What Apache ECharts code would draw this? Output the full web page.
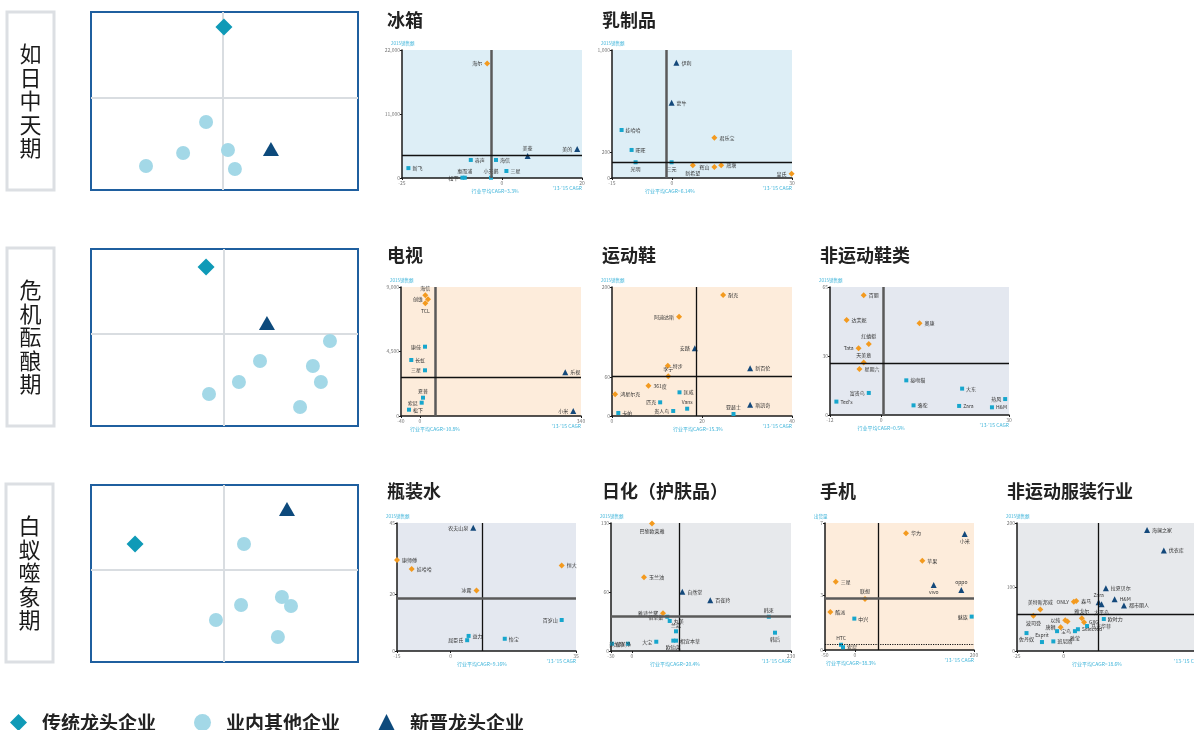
<!DOCTYPE html>
<html>
<head>
<meta charset="utf-8">
<title>行业格局</title>
<script src="https://cdn.jsdelivr.net/npm/echarts@6/dist/echarts.min.js"></script>
<style>
html, body { margin: 0; padding: 0; background: #fff; }
#main { width: 1194px; height: 730px; }
</style>
</head>
<body>
<div id="main"></div>
<script>
// ---- 示意图（0~100 的相对坐标）----
var legendNames = ['传统龙头企业', '业内其他企业', '新晋龙头企业'];
var stage1Old = [[49.8, 91.6]];
var stage1Other = [[43.1, 38.2], [34.5, 20.8], [20.6, 13.5], [51.3, 22.5], [53.9, 11.8]];
var stage1Rising = [[67.4, 23.0]];
var stage2Old = [[43.1, 89.8]];
var stage2Other = [[89.5, 48.0], [63.3, 36.7], [83.1, 33.9], [55.4, 24.9], [86.1, 24.9], [44.2, 18.1], [78.3, 10.7]];
var stage2Rising = [[65.9, 58.2]];
var stage3Old = [[16.5, 66.7]];
var stage3Other = [[57.3, 66.7], [71.5, 36.7], [74.9, 31.6], [56.2, 32.2], [46.8, 23.7], [70.0, 14.1]];
var stage3Rising = [[73.4, 86.4]];

// ---- 各行业：x = '13-'15 CAGR(%)，y = 2015销售额 ----
// 类型: o 传统龙头(橙) c 其他(青) t 新晋龙头(深蓝)
var fridgeNames = ['海尔', '美的', '美菱', '容声', '海信', '三星', '新飞', '松下', '惠而浦', '小天鹅'];
var fridgeKind = ['o', 't', 't', 'c', 'c', 'c', 'c', 'c', 'c', 'c'];
var fridgeX = [-3.7, 18.8, 6.4, -7.8, -1.5, 1.1, -23.4, -9.9, -9.3, -2.75];
var fridgeY = [19700, 5000, 3800, 3100, 3100, 1200, 1700, 50, 50, 50];

var dairyNames = ['伊利', '蒙牛', '娃哈哈', '旺旺', '光明', '三元', '君乐宝', '新希望', '辉山', '燕塘', '皇氏'];
var dairyKind = ['t', 't', 'c', 'c', 'c', 'c', 'o', 'o', 'o', 'o', 'o'];
var dairyX = [1.1, -0.1, -12.6, -10.1, -9.1, -0.1, 10.6, 5.2, 10.6, 12.3, 29.9];
var dairyY = [901, 588, 375, 219, 123, 123, 315, 99, 86, 99, 34];

var tvNames = ['海信', '创维', 'TCL', '康佳', '长虹', '三星', '乐视', '夏普', '索尼', '松下', '小米'];
var tvKind = ['o', 'o', 'o', 'c', 'c', 'c', 't', 'c', 'c', 'c', 't'];
var tvX = [11.3, 17, 11.3, 10.7, -18.3, 10.7, 306.8, 6.4, 3.7, -23.1, 323.7];
var tvY = [8420, 8140, 7860, 4835, 3907, 3188, 3049, 1277, 928, 440, 349];

var sportNames = ['耐克', '阿迪达斯', '安踏', '特步', '李宁', '新百伦', '361度', '鸿星尔克', '匡威', '匹克', 'Vans', '斯凯奇', '贵人鸟', '卡帕', '亚瑟士'];
var sportKind = ['o', 'o', 't', 'o', 'o', 't', 'o', 'o', 'c', 'c', 'c', 't', 'c', 'c', 'c'];
var sportX = [24.7, 14.9, 18.4, 12.4, 12.5, 30.7, 8.1, 0.7, 15, 10.7, 16.7, 30.7, 13.6, 1.4, 27];
var sportY = [187.6, 154, 105, 78, 61.5, 74, 47, 33.6, 36.7, 21.2, 11.3, 17.5, 7.8, 4.7, 3.1];

var shoeNames = ['百丽', '达芙妮', '奥康', '红蜻蜓', 'Tata', '天美意', '星期六', '接吻猫', '富贵鸟', "Ted's", '骆驼', '大东', 'Zara', '热风', 'H&M'];
var shoeKind = ['o', 'o', 'o', 'o', 'o', 'o', 'o', 'c', 'c', 'c', 'c', 'c', 'c', 'c', 'c'];
var shoeX = [-4.1, -8.1, 9, -2.9, -5.3, -4.1, -5.1, 5.9, -2.9, -10.5, 7.6, 19, 18.3, 29.1, 26];
var shoeY = [60.8, 48.2, 46.6, 36.1, 33.9, 26.6, 23.4, 17.6, 11.2, 6.8, 4.9, 13.4, 4.6, 8.1, 3.9];

var waterNames = ['农夫山泉', '康师傅', '娃哈哈', '恒大', '冰露', '百岁山', '益力', '屈臣氏', '怡宝'];
var waterKind = ['t', 'o', 'o', 'o', 'o', 'c', 'c', 'c', 'c'];
var waterX = [6.3, -15, -10.9, 31, 7.2, 31, 5, 4.6, 15.1];
var waterY = [43.3, 32, 28.8, 30.1, 21.3, 10.9, 5.3, 3.8, 4.3];

var skinNames = ['巴黎欧莱雅', '玉兰油', '自然堂', '百雀羚', '雅诗兰黛', '佰草集', '丸美', '兰蔻', '相宜本草', '欧珀莱', '大宝', '美加净', '郁美净', '韩后', '韩束'];
var skinKind = ['o', 'o', 't', 't', 'o', 'c', 'c', 'c', 'c', 'c', 'c', 'c', 'c', 'c', 'c'];
var skinX = [29.2, 17.7, 73, 113.4, 45.1, 51.3, 54.8, 63.9, 63.9, 60, 35.4, -5.4, -28.6, 206.9, 198];
var skinY = [129.5, 74.9, 60.2, 51.5, 38.3, 34.8, 30.5, 20, 10.5, 10.5, 9.4, 7.4, 7.4, 18.6, 34.8];

var phoneNames = ['华为', '小米', '苹果', '三星', 'vivo', 'oppo', '联想', '魅族', '酷派', '中兴', 'HTC', '索尼'];
var phoneKind = ['o', 't', 'o', 'o', 't', 't', 'o', 'c', 'o', 'c', 'c', 'c'];
var phoneX = [85.9, 184.4, 113.3, -32, 132.4, 178.7, 17.1, 196.1, -41.1, -0.8, -23.2, -19.8];
var phoneY = [6.43, 6.39, 4.92, 3.76, 3.58, 3.31, 2.81, 1.84, 2.09, 1.73, 0.29, 0.15];

var clothNames = ['海澜之家', '优衣库', '拉夏贝尔', 'H&M', 'Zara', '太平鸟', '都市丽人', '美特斯邦威', 'ONLY', '森马', '波司登', '以纯', '', '雅戈尔', 'GXG', '马克华菲', '唐狮', 'Selected', '雅莹', '宝鸟', '欧时力', '佐丹奴', 'Esprit', '班尼路'];
var clothKind = ['t', 't', 't', 't', 't', 't', 't', 'o', 'o', 'o', 'o', 'o', 'o', 'o', 'o', 'c', 'o', 'c', 'c', 'c', 'c', 'c', 'c', 'c'];
var clothX = [44.8, 53.8, 22.7, 27.4, 18.8, 20.4, 32.4, -12.5, 5.5, 6.8, -16.2, 0.9, 2.1, 9.8, 11, 12.6, -1.6, 7.7, 6.1, -3.5, 21.6, -19.9, -11.6, -5.5];
var clothY = [189, 157, 98, 81, 76, 73, 71, 65, 77, 78, 55, 48, 46, 51, 45, 39, 37, 34, 31, 31, 50, 28, 14, 15];

// 标签方位（排版用）
var fridgeSide = ['left', 'left', 'top', 'right', 'right', 'right', 'right', 'left', 'top', 'top'];
var dairySide = ['right', 'right', 'right', 'right', 'bottom', 'bottom', 'right', 'bottom', 'left', 'right', 'left'];
var tvSide = ['top', 'left', 'bottom', 'left', 'right', 'left', 'right', 'top', 'left', 'right', 'left'];
var sportSide = ['right', 'left', 'left', 'right', 'top', 'right', 'right', 'right', 'right', 'left', 'top', 'right', 'left', 'right', 'top'];
var shoeSide = ['right', 'right', 'right', 'top', 'left', 'top', 'right', 'right', 'left', 'right', 'right', 'right', 'right', 'left', 'right'];
var waterSide = ['left', 'right', 'right', 'right', 'left', 'left', 'right', 'left', 'right'];
var skinSide = ['bottom', 'right', 'right', 'right', 'left', 'left', 'right', 'top', 'right', 'bottom', 'left', 'left', 'right', 'bottom', 'top'];
var phoneSide = ['right', 'bottom', 'right', 'right', 'bottom', 'top', 'top', 'left', 'right', 'right', 'top', 'right'];
var clothSide = ['right', 'right', 'right', 'right', 'top', 'bottom', 'right', 'top', 'left', 'right', 'bottom', 'left', 'right', 'top', 'right', 'right', 'left', 'right', 'bottom', 'right', 'right', 'bottom', 'top', 'right'];

var FONT = '"Noto Sans CJK SC", "Noto Sans", sans-serif';
var KIND = {
    o: { symbol: 'diamond', color: '#f39a1f', size: 6 },
    c: { symbol: 'rect', color: '#17a6cd', size: 4 },
    t: { symbol: 'triangle', color: '#14497b', size: 6 }
};
var THICK = { color: '#5a5a5a', width: 2.5, type: 'solid' };
var THIN = { color: '#111', width: 1.3, type: 'solid' };
var CYAN = '#3cb3d9';

var stages = [
    { label: '如日中天期', lbox: [7, 12, 47, 178], box: [91, 12, 267, 178], cross: [49.4, 51.7], old: stage1Old, other: stage1Other, rising: stage1Rising },
    { label: '危机酝酿期', lbox: [7, 248, 47, 178], box: [91, 249, 267, 177], cross: [49.8, 52.0], old: stage2Old, other: stage2Other, rising: stage2Rising },
    { label: '白蚁噬象期', lbox: [6, 484, 47, 178], box: [91, 485, 267, 177], cross: [49.8, 52.0], old: stage3Old, other: stage3Other, rising: stage3Rising }
];

var panels = [
    { title: '冰箱', tp: [387, 20], box: [402, 50, 180, 128], bg: '#ddeef6', xr: [-25, 20], xt: [-25, 0, 20], yr: [0, 22000], yt: [0, 11000, 22000],
      mean: [-2.6, 3830], thick: 'v', yName: '2015销售额', cagr: '行业平均CAGR=3.3%', cagrX: 495,
      names: fridgeNames, kinds: fridgeKind, xs: fridgeX, ys: fridgeY, sides: fridgeSide },
    { title: '乳制品', tp: [602, 20], box: [612, 50, 180, 128], bg: '#ddeef6', xr: [-15, 30], xt: [-15, 0, 30], yr: [0, 1000], yt: [0, 200, 1000],
      mean: [-1.5, 123], thick: 'v', yName: '2015销售额', cagr: '行业平均CAGR=6.14%', cagrX: 670,
      names: dairyNames, kinds: dairyKind, xs: dairyX, ys: dairyY, sides: dairySide },
    { title: '电视', tp: [387, 255], box: [401, 287, 180, 129], bg: '#fdecdb', xr: [-40, 340], xt: [-40, 0, 340], yr: [0, 9000], yt: [0, 4500, 9000],
      mean: [31.8, 2700], thick: 'v', yName: '2015销售额', cagr: '行业平均CAGR=10.8%', cagrX: 435,
      names: tvNames, kinds: tvKind, xs: tvX, ys: tvY, sides: tvSide },
    { title: '运动鞋', tp: [602, 255], box: [612, 287, 180, 129], bg: '#fdecdb', xr: [0, 40], xt: [0, 20, 40], yr: [0, 200], yt: [0, 60, 200],
      mean: [18.7, 61.5], thick: '', yName: '2015销售额', cagr: '行业平均CAGR=15.3%', cagrX: 698,
      names: sportNames, kinds: sportKind, xs: sportX, ys: sportY, sides: sportSide },
    { title: '非运动鞋类', tp: [820, 255], box: [830, 287, 179, 128], bg: '#e4e8f0', xr: [-12, 30], xt: [-12, 0, 30], yr: [0, 65], yt: [0, 30, 65],
      mean: [0.4, 26.3], thick: 'v', yName: '2015销售额', cagr: '行业平均CAGR=0.5%', cagrX: 881,
      names: shoeNames, kinds: shoeKind, xs: shoeX, ys: shoeY, sides: shoeSide },
    { title: '瓶装水', tp: [387, 491], box: [397, 523, 179, 128], bg: '#e4e8f0', xr: [-15, 35], xt: [-15, 0, 35], yr: [0, 45], yt: [0, 20, 45],
      mean: [8.7, 18.4], thick: 'h', yName: '2015销售额', cagr: '行业平均CAGR=9.16%', cagrX: 482,
      names: waterNames, kinds: waterKind, xs: waterX, ys: waterY, sides: waterSide },
    { title: '日化（护肤品）', tp: [602, 491], box: [611, 523, 180, 128], bg: '#e7e9ec', xr: [-30, 230], xt: [-30, 0, 230], yr: [0, 130], yt: [0, 60, 130],
      mean: [69.2, 34.8], thick: 'h', yName: '2015销售额', cagr: '行业平均CAGR=20.4%', cagrX: 675,
      names: skinNames, kinds: skinKind, xs: skinX, ys: skinY, sides: skinSide },
    { title: '手机', tp: [820, 491], box: [825, 523, 149, 127], bg: '#fdecdb', xr: [-50, 200], xt: [-50, 0, 200], yr: [0, 7], yt: [0, 3, 7],
      mean: [39.4, 2.83], thick: 'h', dotted: 0.31, yName: '出货量', cagr: '行业平均CAGR=38.3%', cagrX: 851,
      names: phoneNames, kinds: phoneKind, xs: phoneX, ys: phoneY, sides: phoneSide },
    { title: '非运动服装行业', tp: [1007, 491], box: [1017, 523, 180, 128], bg: '#e7e9ec', xr: [-25, 70], xt: [-25, 0], yr: [0, 200], yt: [0, 100, 200],
      mean: [18.4, 57], thick: '', yName: '2015销售额', cagr: '行业平均CAGR=18.6%', cagrX: 1097,
      names: clothNames, kinds: clothKind, xs: clothX, ys: clothY, sides: clothSide }
];

function fmt(v) {
    return Math.abs(v) >= 1000 ? v.toLocaleString('en-US') : String(v);
}

var grid = [], xAxis = [], yAxis = [], series = [], graphic = [];

stages.forEach(function (s, k) {
    graphic.push({ type: 'rect', shape: { x: s.lbox[0], y: s.lbox[1], width: s.lbox[2], height: s.lbox[3] },
        style: { fill: '#fff', stroke: '#dcdfe3', lineWidth: 3 } });
    var cy = s.lbox[1] + s.lbox[3] / 2;
    s.label.split('').forEach(function (ch, i) {
        graphic.push({ type: 'text', x: s.lbox[0] + s.lbox[2] / 2, y: cy + (i - 2) * 23.5,
            style: { text: ch, font: '22px ' + FONT, fill: '#1a1a1a', textAlign: 'center', textVerticalAlign: 'middle' } });
    });
    grid.push({ left: s.box[0], top: s.box[1], width: s.box[2], height: s.box[3], show: true,
        borderColor: '#1f5f9f', borderWidth: 2, backgroundColor: '#fff' });
    xAxis.push({ gridIndex: k, type: 'value', min: 0, max: 100, show: false });
    yAxis.push({ gridIndex: k, type: 'value', min: 0, max: 100, show: false });
    // 十字分界线单独放在最底层
    series.push({ type: 'scatter', xAxisIndex: k, yAxisIndex: k, data: [], z: 1,
        markLine: { silent: true, symbol: 'none', label: { show: false }, lineStyle: { color: '#d9dde1', width: 2, type: 'solid' },
            data: [{ xAxis: s.cross[0] }, { yAxis: s.cross[1] }] } });
    series.push({ name: legendNames[1], type: 'scatter', xAxisIndex: k, yAxisIndex: k, symbol: 'circle', symbolSize: 14, z: 5,
        itemStyle: { color: '#a3d8e7', opacity: 1 }, data: s.other });
    series.push({ name: legendNames[0], type: 'scatter', xAxisIndex: k, yAxisIndex: k, symbol: 'diamond', symbolSize: 17, z: 5,
        itemStyle: { color: '#0f9ab7', opacity: 1 }, data: s.old });
    series.push({ name: legendNames[2], type: 'scatter', xAxisIndex: k, yAxisIndex: k, symbol: 'triangle', symbolSize: [16, 14], z: 5,
        itemStyle: { color: '#0d4a7c', opacity: 1 }, data: s.rising });
});

panels.forEach(function (p, k) {
    var gi = k + 3;
    var right = p.box[0] + p.box[2], bottom = p.box[1] + p.box[3];
    grid.push({ left: p.box[0], top: p.box[1], width: p.box[2], height: p.box[3], show: true, backgroundColor: p.bg, borderWidth: 0 });
    xAxis.push({ gridIndex: gi, type: 'value', min: p.xr[0], max: p.xr[1], splitLine: { show: false },
        axisLine: { onZero: false, lineStyle: { color: '#1a1a1a', width: 1.5 } },
        axisTick: { customValues: p.xt, length: 2, lineStyle: { color: '#1a1a1a' } },
        axisLabel: { customValues: p.xt, fontSize: 5, color: '#777', margin: 3, formatter: fmt, showMinLabel: true, showMaxLabel: true } });
    yAxis.push({ gridIndex: gi, type: 'value', min: p.yr[0], max: p.yr[1], splitLine: { show: false },
        axisLine: { onZero: false, lineStyle: { color: '#1a1a1a', width: 1.5 } },
        axisTick: { customValues: p.yt, length: 2, lineStyle: { color: '#1a1a1a' } },
        axisLabel: { customValues: p.yt, fontSize: 5, color: '#777', margin: 2, formatter: fmt, showMinLabel: true, showMaxLabel: true } });
    var data = p.names.map(function (n, i) {
        var st = KIND[p.kinds[i]];
        return { name: n, value: [p.xs[i], p.ys[i]], symbol: st.symbol, symbolSize: st.size,
            itemStyle: { color: st.color, opacity: 1 }, label: { position: p.sides[i] } };
    });
    var lines = [
        { xAxis: p.mean[0], lineStyle: p.thick === 'v' ? THICK : THIN },
        { yAxis: p.mean[1], lineStyle: p.thick === 'h' ? THICK : THIN }
    ];
    if (p.dotted != null) lines.push({ yAxis: p.dotted, lineStyle: { color: '#111', width: 1.2, type: 'dotted' } });
    series.push({ type: 'scatter', xAxisIndex: gi, yAxisIndex: gi, data: [], z: 1,
        markLine: { silent: true, symbol: 'none', label: { show: false }, data: lines } });
    series.push({ type: 'scatter', xAxisIndex: gi, yAxisIndex: gi, data: data, z: 4,
        label: { show: true, formatter: '{b}', fontSize: 5, color: '#333', distance: 2 } });

    graphic.push({ type: 'text', x: p.tp[0], y: p.tp[1],
        style: { text: p.title, font: 'bold 18px ' + FONT, fill: '#222', textVerticalAlign: 'middle' } });
    graphic.push({ type: 'text', x: p.box[0] - 11, y: p.box[1] - 7,
        style: { text: p.yName, font: '4.5px ' + FONT, fill: CYAN, textVerticalAlign: 'middle' } });
    graphic.push({ type: 'text', x: p.cagrX, y: bottom + 13,
        style: { text: p.cagr, font: '5px ' + FONT, fill: CYAN, textAlign: 'center', textVerticalAlign: 'middle' } });
    graphic.push({ type: 'text', x: Math.min(right, 1194 - 20), y: bottom + 10,
        style: { text: "'13-'15 CAGR", font: '5px ' + FONT, fill: CYAN, textAlign: right > 1190 ? 'left' : 'right', textVerticalAlign: 'middle' } });
});

var chart = echarts.init(document.getElementById('main'));
chart.setOption({
    animation: false,
    textStyle: { fontFamily: FONT },
    legend: {
        left: 5, top: 708, itemWidth: 17, itemHeight: 17, itemGap: 38, selectedMode: false,
        textStyle: { fontSize: 19, fontWeight: 'bold', color: '#222', padding: [0, 0, 0, 10] },
        data: [{ name: legendNames[0], icon: 'diamond' }, { name: legendNames[1], icon: 'circle' }, { name: legendNames[2], icon: 'triangle' }]
    },
    grid: grid,
    xAxis: xAxis,
    yAxis: yAxis,
    series: series,
    graphic: graphic
});
</script>
</body>
</html>
